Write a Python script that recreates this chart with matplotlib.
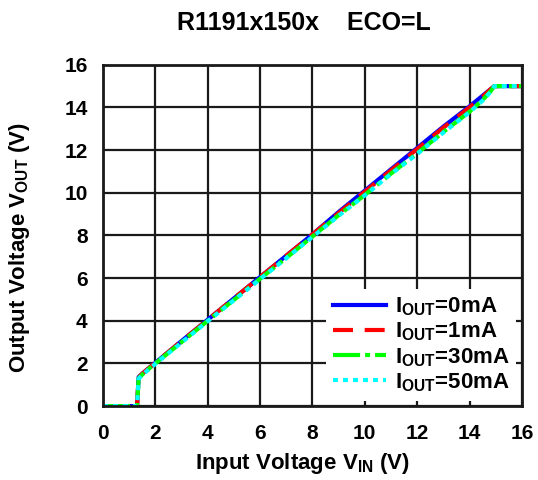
import matplotlib
matplotlib.use("Agg")
import matplotlib.pyplot as plt

# -----------------------------
# Data
# -----------------------------
vin = [0.0, 1.3, 1.36, 1.5, 1.8, 2.0, 3.0, 4.0, 5.0, 6.0, 7.0, 8.0, 9.0,
       10.0, 11.0, 12.0, 13.0, 14.0, 14.5, 14.8, 14.95, 15.2, 16.0]

vout_0ma = [0.0, 0.0, 1.36, 1.52, 1.83, 2.03, 3.05, 4.05, 5.05, 6.05, 7.05,
            8.05, 9.1, 10.1, 11.1, 12.1, 13.1, 14.05, 14.55, 14.85, 15.0, 15.0, 15.0]
vout_1ma = [0.0, 0.0, 1.35, 1.52, 1.83, 2.03, 3.05, 4.05, 5.05, 6.05, 7.05,
            8.05, 9.05, 10.05, 11.05, 12.05, 13.05, 14.0, 14.5, 14.85, 15.0, 15.0, 15.0]
vout_30ma = [0.0, 0.0, 1.3, 1.48, 1.8, 2.0, 3.0, 4.0, 4.98, 5.97, 6.95,
             7.95, 8.95, 9.9, 10.9, 11.85, 12.85, 13.8, 14.35, 14.75, 15.0, 15.0, 15.0]
vout_50ma = [0.0, 0.0, 1.28, 1.46, 1.78, 1.98, 2.98, 3.98, 4.96, 5.95, 6.93,
             7.93, 8.92, 9.88, 10.88, 11.82, 12.82, 13.78, 14.32, 14.72, 15.0, 15.0, 15.0]

labels = [r"I$_\mathregular{OUT}$=0mA", r"I$_\mathregular{OUT}$=1mA",
          r"I$_\mathregular{OUT}$=30mA", r"I$_\mathregular{OUT}$=50mA"]
ticks = [0, 2, 4, 6, 8, 10, 12, 14, 16]

# -----------------------------
# Plot
# -----------------------------
plt.rcParams["font.family"] = ["Liberation Sans", "DejaVu Sans"]
plt.rcParams["font.weight"] = "bold"
plt.rcParams["mathtext.default"] = "bf"

fig = plt.figure(figsize=(5.38, 4.8), dpi=100)
ax = fig.add_axes([0.1915, 0.154, 0.7785, 0.711])

ax.plot(vin, vout_0ma, color="#0000ff", lw=3, ls="-", label=labels[0])
ax.plot(vin, vout_1ma, color="#ff0000", lw=3, ls=(0, (4.8, 2.8)), label=labels[1])
ax.plot(vin, vout_30ma, color="#00ff00", lw=3, ls=(0, (6.5, 1.2, 1.2, 1.2)), label=labels[2])
ax.plot(vin, vout_50ma, color="#00ffff", lw=3, ls=(0, (1.2, 1.2)), label=labels[3])

ax.set_xlim(0, 16)
ax.set_ylim(0, 16)
ax.set_xticks(ticks)
ax.set_yticks(ticks)
ax.tick_params(length=0, labelsize=15)
ax.tick_params(axis="x", pad=13)
ax.tick_params(axis="y", pad=11)
for lab in ax.get_xticklabels() + ax.get_yticklabels():
    lab.set_fontweight("bold")
ax.grid(True, color="#1a1a1a", lw=1.6)
for sp in ax.spines.values():
    sp.set_linewidth(2)
    sp.set_color("#1a1a1a")

ax.set_xlabel(r"Input Voltage V$_\mathregular{IN}$ (V)", fontsize=16, fontweight="bold")
ax.set_ylabel(r"Output Voltage V$_\mathregular{OUT}$ (V)", fontsize=16, fontweight="bold")
ax.xaxis.set_label_coords(0.477, -0.132)
ax.yaxis.set_label_coords(-0.169, 0.463)
fig.text(304 / 538, 1 - 23 / 480, "R1191x150x    ECO=L", fontsize=18,
         fontweight="bold", ha="center", va="center")

leg = ax.legend(loc="lower right", fontsize=16, frameon=True, facecolor="white",
                edgecolor="none", framealpha=1, fancybox=False, handlelength=2.4,
                borderpad=0.3, labelspacing=0.12, handletextpad=0.4,
                borderaxespad=0.25)

fig.savefig("out.png", dpi=100)
